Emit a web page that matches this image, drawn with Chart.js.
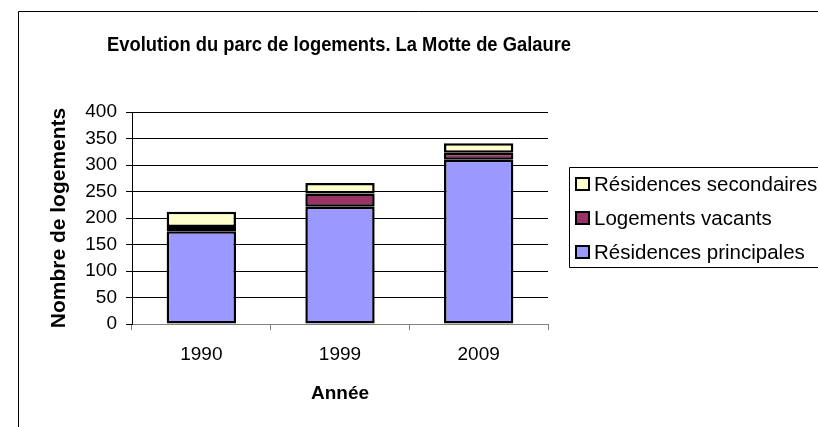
<!DOCTYPE html>
<html>
<head>
<meta charset="utf-8">
<script src="https://cdn.jsdelivr.net/npm/chart.js@4.4.1/dist/chart.umd.min.js"></script>
<style>
  html, body { margin: 0; padding: 0; background: #fff; }
  canvas { display: block; }
</style>
</head>
<body>
<canvas id="parcChart" width="818" height="427"></canvas>
<script>
// données
var annees = ["1990", "1999", "2009"];
var principales = [175, 221, 310];
var vacants = [8, 25, 13];
var secondaires = [29, 20, 18];
var series = ["Résidences principales", "Logements vacants", "Résidences secondaires"];
var couleurs = ["#9999FF", "#993366", "#FFFFCC"];
var titre = "Evolution du parc de logements. La Motte de Galaure";
var yMax = 400;
var yPas = 50;

var police = "Arial, 'Liberation Sans', sans-serif";

// cadre, titre et légende dessinés à la main (légende Excel encadrée, coupée à droite)
var cadreLegende = {
  id: 'cadreLegende',
  afterDraw: function (chart) {
    var ctx = chart.ctx;
    ctx.save();
    ctx.strokeStyle = '#000';
    ctx.lineWidth = 1;
    ctx.beginPath();
    ctx.moveTo(18.5, 430);
    ctx.lineTo(18.5, 11.5);
    ctx.lineTo(830, 11.5);
    ctx.stroke();

    // titre
    ctx.fillStyle = '#000';
    ctx.font = 'bold 21px ' + police;
    ctx.textAlign = 'center';
    ctx.textBaseline = 'middle';
    ctx.fillText(titre, 339, 45, 464);

    // boîte de légende
    ctx.beginPath();
    ctx.moveTo(830, 167.5);
    ctx.lineTo(569.5, 167.5);
    ctx.lineTo(569.5, 267.5);
    ctx.lineTo(830, 267.5);
    ctx.stroke();

    ctx.font = '20.5px ' + police;
    ctx.textAlign = 'left';
    var ds = chart.data.datasets.slice().reverse();
    ds.forEach(function (d, i) {
      var y = 184 + i * 34;
      ctx.fillStyle = d.backgroundColor;
      ctx.fillRect(576, y - 6, 13, 12);
      ctx.lineWidth = 2;
      ctx.strokeStyle = '#000';
      ctx.strokeRect(576, y - 6, 13, 12);
      ctx.fillStyle = '#000';
      ctx.fillText(d.label, 594, y + 1);
    });
    ctx.restore();
  }
};

var ctx = document.getElementById("parcChart").getContext("2d");
var parcChart = new Chart(ctx, {
  type: 'bar',
  data: {
    labels: annees,
    datasets: [
      { label: series[0], data: principales, backgroundColor: couleurs[0] },
      { label: series[1], data: vacants, backgroundColor: couleurs[1] },
      { label: series[2], data: secondaires, backgroundColor: couleurs[2] }
    ]
  },
  options: {
    responsive: false,
    animation: false,
    layout: { padding: { left: 47, right: 270, top: 112, bottom: 0 } },
    datasets: {
      bar: {
        borderColor: '#000',
        borderWidth: 2.5,
        borderSkipped: false,
        barPercentage: 0.5,
        categoryPercentage: 1
      }
    },
    plugins: {
      legend: { display: false },
      tooltip: { enabled: false },
      title: { display: false }
    },
    scales: {
      x: {
        stacked: true,
        afterFit: function (s) { s.height = 103; },
        grid: { drawOnChartArea: false, color: '#808080', tickLength: 6, offset: true },
        border: { color: '#808080' },
        ticks: { color: '#000', padding: 13, font: { family: police, size: 19 } },
        title: {
          display: true,
          text: 'Année',
          color: '#000',
          font: { family: police, size: 19, weight: 'bold' },
          padding: { top: 0, bottom: 22 }
        }
      },
      y: {
        stacked: true,
        min: 0,
        max: yMax,
        afterFit: function (s) { s.width = 85; },
        grid: { color: '#000', tickLength: 6 },
        border: { color: '#000' },
        ticks: { stepSize: yPas, color: '#000', padding: 9, font: { family: police, size: 19 } },
        title: {
          display: true,
          text: 'Nombre de logements',
          color: '#000',
          font: { family: police, size: 21, weight: 'bold' },
          padding: { top: 0, bottom: 0 }
        }
      }
    }
  },
  plugins: [cadreLegende]
});
</script>
</body>
</html>
